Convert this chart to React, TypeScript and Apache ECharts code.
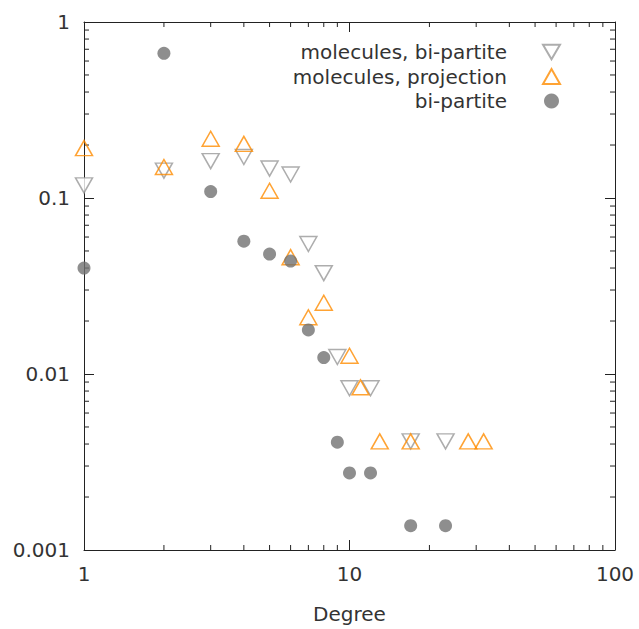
import React, { useEffect, useRef } from "react";
import * as echarts from "echarts";

const seriesNames = ["molecules, bi-partite", "molecules, projection", "bi-partite"];

const molBipartiteX = [1, 2, 3, 4, 5, 6, 7, 8, 9, 10, 12, 17, 23];
const molBipartiteY = [0.118, 0.143, 0.162, 0.171, 0.147, 0.136, 0.0548, 0.0374, 0.0125, 0.0083, 0.0083, 0.00414, 0.00414];

const molProjectionX = [1, 2, 3, 4, 5, 6, 7, 8, 10, 11, 13, 17, 28, 32];
const molProjectionY = [0.192, 0.15, 0.217, 0.203, 0.11, 0.0461, 0.021, 0.0254, 0.0127, 0.0084, 0.00414, 0.00414, 0.00414, 0.00414];

const bipartiteX = [1, 2, 3, 4, 5, 6, 7, 8, 9, 10, 12, 17, 23];
const bipartiteY = [0.04, 0.664, 0.1088, 0.0568, 0.048, 0.0438, 0.0178, 0.0124, 0.0041, 0.00274, 0.00274, 0.001375, 0.001375];

const xMinorTicks = [2, 3, 4, 5, 6, 7, 8, 9, 20, 30, 40, 50, 60, 70, 80, 90];
const yMinorTicks = [0.002, 0.003, 0.004, 0.005, 0.006, 0.007, 0.008, 0.009, 0.02, 0.03, 0.04, 0.05, 0.06, 0.07, 0.08, 0.09, 0.2, 0.3, 0.4, 0.5, 0.6, 0.7, 0.8, 0.9];

const xTickLabels: Record<string, string> = { "1": "1", "10": "10", "100": "100" };
const yTickLabels: Record<string, string> = { "0.001": "0.001", "0.01": "0.01", "0.1": "0.1", "1": "1" };

const X_MIN = 1, X_MAX = 100, Y_MIN = 0.001, Y_MAX = 1;
const FONT = "DejaVu Sans";
const TEXT = "#333";
const AXIS = "#222";
const FS = 20;

function fmt(map: Record<string, string>) {
  return (v: number) => {
    const key = String(+Number(v).toPrecision(3));
    return map[key] ?? key;
  };
}

const zip = (xs: number[], ys: number[]) => xs.map((x, i) => [x, ys[i]]);

const DOWN_TRI = "path://M0,0 L20,0 L10,17.3 Z";

export default function App() {
  const ref = useRef<HTMLDivElement>(null);
  useEffect(() => {
    const chart = echarts.init(ref.current!, null, { renderer: "svg" });
    const axisCommon = {
      type: "log" as const,
      logBase: 10,
      splitLine: { show: false },
      axisLine: { show: true, lineStyle: { color: AXIS, width: 1 } },
      axisTick: { show: true, inside: true, length: 10, lineStyle: { color: AXIS } },
    };
    chart.setOption({
      animation: false,
      backgroundColor: "#fff",
      textStyle: { fontFamily: FONT },
      grid: { left: 84, top: 22, width: 531, height: 531, containLabel: false },
      legend: {
        data: seriesNames,
        orient: "vertical",
        top: 35,
        right: 73,
        align: "right",
        itemWidth: 17,
        itemHeight: 15,
        itemGap: 0.5,
        textStyle: {
          fontFamily: FONT,
          fontSize: FS,
          color: TEXT,
          lineHeight: 24,
          width: 225,
          align: "right",
          padding: [0, 31, 0, 0],
        },
      },
      xAxis: [
        {
          ...axisCommon,
          min: X_MIN,
          max: X_MAX,
          position: "bottom",
          name: "Degree",
          nameLocation: "middle",
          nameGap: 54,
          nameTextStyle: { fontFamily: FONT, fontSize: FS, color: TEXT },
          axisLabel: { fontFamily: FONT, fontSize: FS, color: TEXT, margin: 14, formatter: fmt(xTickLabels) },
        },
        {
          ...axisCommon,
          min: X_MIN,
          max: X_MAX,
          position: "top",
          axisLabel: { show: false },
        },
      ],
      yAxis: [
        {
          ...axisCommon,
          min: Y_MIN,
          max: Y_MAX,
          position: "left",
          axisLabel: { fontFamily: FONT, fontSize: FS, color: TEXT, margin: 14, formatter: fmt(yTickLabels) },
        },
        {
          ...axisCommon,
          min: Y_MIN,
          max: Y_MAX,
          position: "right",
          axisLabel: { show: false },
        },
      ],
      series: [
        {
          name: seriesNames[0],
          type: "scatter",
          data: zip(molBipartiteX, molBipartiteY),
          symbol: DOWN_TRI,
          symbolSize: [17, 15],
          itemStyle: { color: "#fff", borderColor: "#999", borderWidth: 1.5 },
          z: 3,
        },
        {
          name: seriesNames[1],
          type: "scatter",
          data: zip(molProjectionX, molProjectionY),
          symbol: "triangle",
          symbolSize: [17, 15],
          itemStyle: { color: "rgba(255,255,255,0)", borderColor: "#ff8c00", borderWidth: 1.5 },
          z: 4,
        },
        {
          name: seriesNames[2],
          type: "scatter",
          data: zip(bipartiteX, bipartiteY),
          symbol: "circle",
          symbolSize: 13,
          itemStyle: { color: "#727272" },
          z: 5,
        },
        {
          name: "xMinor",
          type: "custom",
          silent: true,
          clip: false,
          data: xMinorTicks.map((v) => [v, Y_MIN]),
          renderItem: (_p: any, api: any) => {
            const v = api.value(0);
            const b = api.coord([v, Y_MIN]);
            const t = api.coord([v, Y_MAX]);
            const style = { stroke: AXIS, lineWidth: 1 };
            return {
              type: "group",
              children: [
                { type: "line", shape: { x1: b[0], y1: b[1], x2: b[0], y2: b[1] - 5 }, style },
                { type: "line", shape: { x1: t[0], y1: t[1], x2: t[0], y2: t[1] + 5 }, style },
              ],
            };
          },
        },
        {
          name: "yMinor",
          type: "custom",
          silent: true,
          clip: false,
          data: yMinorTicks.map((v) => [X_MIN, v]),
          renderItem: (_p: any, api: any) => {
            const v = api.value(1);
            const l = api.coord([X_MIN, v]);
            const r = api.coord([X_MAX, v]);
            const style = { stroke: AXIS, lineWidth: 1 };
            return {
              type: "group",
              children: [
                { type: "line", shape: { x1: l[0], y1: l[1], x2: l[0] + 5, y2: l[1] }, style },
                { type: "line", shape: { x1: r[0], y1: r[1], x2: r[0] - 5, y2: r[1] }, style },
              ],
            };
          },
        },
      ],
    });
    return () => chart.dispose();
  }, []);
  return <div ref={ref} style={{ position: "fixed", left: 0, top: 0, width: 639, height: 629 }} />;
}
